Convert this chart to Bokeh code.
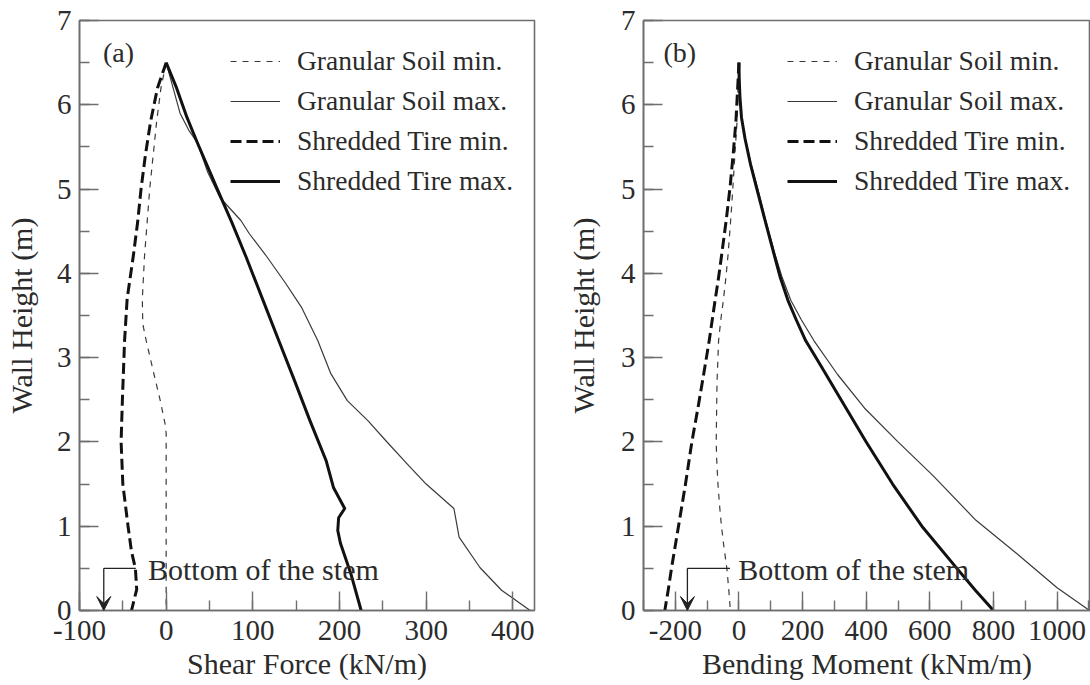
from bokeh.plotting import figure
from bokeh.layouts import row
from bokeh.models import Range1d, SingleIntervalTicker, Label, Arrow, VeeHead
from bokeh.embed import file_html
from bokeh.resources import INLINE

FONT = "Liberation Serif"
TXT = "#2b2b2b"
FRAME = "#6e6e6e"

series_names = ["Granular Soil min.", "Granular Soil max.", "Shredded Tire min.", "Shredded Tire max."]

# ---------- Panel (a): Shear force (kN/m) vs wall height (m)
sf_gs_min_x = [0, -6, -11, -15, -19, -22, -25, -27.5, -27, -23, -14, -7, -1, 0, 0]
sf_gs_min_y = [6.5, 6.2, 5.8, 5.4, 5.0, 4.6, 4.2, 3.7, 3.4, 3.2, 2.8, 2.5, 2.2, 2.1, 0]

sf_gs_max_x = [0, 8, 16, 26, 36, 48, 62, 86, 96, 116, 138, 156, 175, 190, 209, 233, 253, 278, 300, 332, 334, 338, 362, 387, 420]
sf_gs_max_y = [6.5, 6.2, 5.9, 5.7, 5.55, 5.2, 4.9, 4.63, 4.47, 4.2, 3.88, 3.6, 3.2, 2.81, 2.49, 2.25, 2.02, 1.74, 1.5, 1.21, 1.1, 0.87, 0.51, 0.24, 0]

sf_st_min_x = [0, -10, -18, -24, -29, -33, -38, -45, -48, -50.5, -52, -50, -44, -40, -35.5, -34, -40]
sf_st_min_y = [6.5, 6.2, 5.8, 5.4, 5.0, 4.6, 4.2, 3.7, 3.2, 2.5, 2.0, 1.5, 1.0, 0.7, 0.5, 0.25, 0]

sf_st_max_x = [0, 12, 24, 36, 59, 76, 92, 111, 130, 148, 166, 184.5, 193, 206, 199, 198, 201, 213, 225]
sf_st_max_y = [6.5, 6.2, 5.85, 5.55, 5.0, 4.6, 4.2, 3.7, 3.2, 2.73, 2.25, 1.78, 1.46, 1.21, 1.1, 0.95, 0.8, 0.44, 0]

# ---------- Panel (b): Bending moment (kNm/m) vs wall height (m)
bm_gs_min_x = [0, -3, -6, -12.5, -19, -26, -34, -41, -49, -57, -64, -69, -71.5, -70, -66, -61, -55, -47, -38, -32, -27]
bm_gs_min_y = [6.5, 6.2, 5.8, 5.42, 5.02, 4.63, 4.23, 3.95, 3.68, 3.45, 3.2, 2.7, 2.0, 1.8, 1.5, 1.25, 1.0, 0.75, 0.5, 0.25, 0]

bm_gs_max_x = [0, 1, 3, 8, 20, 38, 58, 84, 113, 136, 163, 196, 236, 310, 395, 500, 610, 745, 872, 1000, 1102]
bm_gs_max_y = [6.5, 6.3, 6.1, 5.85, 5.6, 5.3, 5.02, 4.63, 4.23, 3.95, 3.68, 3.45, 3.2, 2.8, 2.4, 2.0, 1.6, 1.07, 0.68, 0.27, 0]

bm_st_min_x = [0, -4, -9.4, -18, -28, -40, -54, -64, -75, -93.5, -111, -129, -148, -168, -190, -212, -222, -233]
bm_st_min_y = [6.5, 6.2, 5.81, 5.42, 5.02, 4.63, 4.23, 3.95, 3.68, 3.2, 2.8, 2.4, 2.0, 1.5, 1.0, 0.5, 0.25, 0]

bm_st_max_x = [0, 1, 3, 8, 19, 36, 55, 82, 110, 130, 154, 180, 210, 258, 305, 400, 483, 575, 685, 743, 800]
bm_st_max_y = [6.5, 6.3, 6.1, 5.85, 5.6, 5.3, 5.02, 4.63, 4.23, 3.95, 3.68, 3.45, 3.2, 2.9, 2.6, 2.0, 1.5, 1.0, 0.5, 0.24, 0]

# axis ranges / ticks
y_range_vals = (0, 7)
sf_x_range = (-100, 425)
bm_x_range = (-300, 1105)
neg_tick_labels_a = {-100: "-100"}
neg_tick_labels_b = {-200: "-200"}

# annotation anchors (data units)
annot_text = "Bottom of the stem"
a_arrow_x, a_bar_end, a_text_x = -72, -35, -21
b_arrow_x, b_bar_end, b_text_x = -162, -28, -2
annot_y, annot_text_y = 0.5, 0.485
panel_tag_a = (-73, 6.62, "(a)")
panel_tag_b = (-237, 6.62, "(b)")


def styled(width, xr, xint, border_left, border_right, xlabel, ylabel_standoff):
    p = figure(width=width, height=685, output_backend="svg", toolbar_location=None,
               x_range=Range1d(*xr), y_range=Range1d(*y_range_vals),
               min_border_left=border_left, min_border_right=border_right,
               min_border_top=20, min_border_bottom=75)
    p.grid.visible = False
    p.background_fill_color = "white"
    p.border_fill_color = "white"
    p.outline_line_color = FRAME
    p.outline_line_width = 1.6
    p.xaxis.ticker = SingleIntervalTicker(interval=xint, num_minor_ticks=2)
    p.yaxis.ticker = SingleIntervalTicker(interval=1, num_minor_ticks=2)
    for ax in (p.xaxis[0], p.yaxis[0]):
        ax.axis_line_color = FRAME
        ax.axis_line_width = 1.6
        ax.major_tick_in = 19
        ax.major_tick_out = 0
        ax.minor_tick_in = 10
        ax.minor_tick_out = 0
        ax.major_tick_line_color = FRAME
        ax.minor_tick_line_color = FRAME
        ax.major_tick_line_width = 1.4
        ax.minor_tick_line_width = 1.4
        ax.major_label_text_font = FONT
        ax.major_label_text_font_size = "29px"
        ax.major_label_text_color = TXT
        ax.axis_label_text_font = FONT
        ax.axis_label_text_font_size = "30px"
        ax.axis_label_text_font_style = "normal"
        ax.axis_label_text_color = TXT
    p.xaxis.axis_label = xlabel
    p.yaxis.axis_label = "Wall Height (m)"
    p.xaxis.major_label_standoff = 10
    p.xaxis.axis_label_standoff = 4
    p.yaxis.major_label_standoff = 8
    p.yaxis.axis_label_standoff = ylabel_standoff
    return p


def add_series(p, data):
    styles = [
        dict(line_color="#3a3a3a", line_width=1.2, line_dash="6 6"),
        dict(line_color="#3a3a3a", line_width=1.2),
        dict(line_color="#111111", line_width=3.0, line_dash="11 5"),
        dict(line_color="#111111", line_width=3.0),
    ]
    for (xs, ys), name, st in zip(data, series_names, styles):
        p.line(xs, ys, legend_label=name, line_join="round", **st)
    lg = p.legend[0]
    lg.border_line_alpha = 0
    lg.background_fill_alpha = 0
    lg.label_text_font = FONT
    lg.label_text_font_size = "27.5px"
    lg.label_text_color = TXT
    lg.glyph_width = 50
    lg.glyph_height = 30
    lg.label_height = 30
    lg.spacing = 8
    lg.padding = 0
    lg.margin = 0
    lg.label_standoff = 17


def add_annotation(p, ax_x, bar_end, text_x, tag):
    p.line([ax_x, bar_end], [annot_y, annot_y], line_color="#222222", line_width=1.3)
    p.add_layout(Arrow(end=VeeHead(size=14, fill_color="#222222", line_color="#222222", line_width=1),
                       x_start=ax_x, y_start=annot_y, x_end=ax_x, y_end=y_range_vals[0],
                       line_color="#222222", line_width=1.3))
    p.add_layout(Label(x=text_x, y=annot_text_y, text=annot_text, text_font=FONT,
                       text_font_size="30px", text_color=TXT, text_baseline="alphabetic"))
    p.add_layout(Label(x=tag[0], y=tag[1], text=tag[2], text_font=FONT,
                       text_font_size="28px", text_color=TXT, text_baseline="middle"))


pa = styled(545, sf_x_range, 100, 79, 11, "Shear Force (kN/m)", 16)
add_series(pa, [(sf_gs_min_x, sf_gs_min_y), (sf_gs_max_x, sf_gs_max_y),
                (sf_st_min_x, sf_st_min_y), (sf_st_max_x, sf_st_max_y)])
pa.xaxis.major_label_overrides = neg_tick_labels_a
pa.legend[0].location = (151, 413)
add_annotation(pa, a_arrow_x, a_bar_end, a_text_x, panel_tag_a)

pb = styled(545, bm_x_range, 200, 98, 0, "Bending Moment (kNm/m)", 18)
add_series(pb, [(bm_gs_min_x, bm_gs_min_y), (bm_gs_max_x, bm_gs_max_y),
                (bm_st_min_x, bm_st_min_y), (bm_st_max_x, bm_st_max_y)])
pb.xaxis.major_label_overrides = neg_tick_labels_b
pb.legend[0].location = (144, 413)
add_annotation(pb, b_arrow_x, b_bar_end, b_text_x, panel_tag_b)

layout = row(pa, pb)
open("out.html", "w").write(file_html(layout, INLINE))
